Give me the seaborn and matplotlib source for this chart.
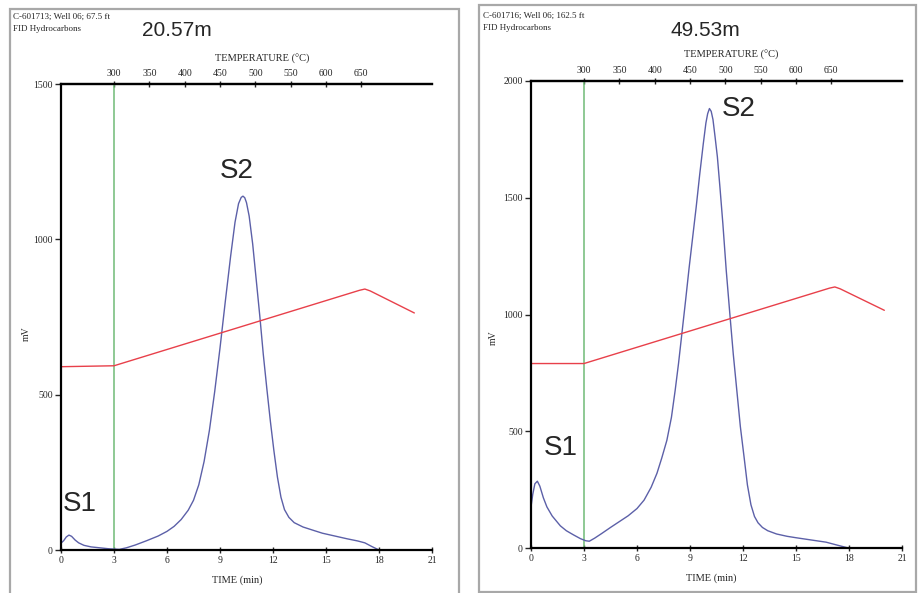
import matplotlib.pyplot as plt
import matplotlib.patches as patches
import seaborn as sns

# Pyrolysis FID traces (time in min, signal in mV)

# sample C-601713, 20.57 m
time_a = [0.0, 0.15, 0.3, 0.45, 0.6, 0.8, 1.0, 1.3, 1.7, 2.2, 2.7, 3.0, 3.3,
          3.7, 4.2, 4.85, 5.5, 6.0, 6.4, 6.8, 7.2, 7.5, 7.8, 8.1, 8.4, 8.7,
          9.0, 9.3, 9.6, 9.85, 10.05, 10.2, 10.3, 10.4, 10.5, 10.65, 10.85,
          11.05, 11.25, 11.45, 11.65, 11.85, 12.05, 12.25, 12.45, 12.65, 12.9,
          13.2, 13.7, 14.3, 14.8, 15.5, 16.2, 16.8, 17.2, 17.6, 18.0]
fid_a = [22, 30, 42, 48, 44, 32, 23, 15, 10, 7, 4, 3, 2,
         7, 16, 30, 45, 60, 76, 98, 128, 160, 210, 285, 385, 510,
         650, 800, 945, 1055, 1115, 1135, 1139, 1134, 1118, 1075, 985,
         870, 755, 630, 520, 415, 320, 235, 170, 130, 105,
         88, 74, 63, 54, 45, 36, 29, 23, 11, 0]
temp_time_a = [0, 2.0, 3.0, 16.9, 17.2, 17.5, 20.0]
temp_trace_a = [590, 592, 593, 836, 840, 834, 763]

# sample C-601716, 49.53 m
time_b = [0.0, 0.1, 0.22, 0.36, 0.5, 0.7, 0.9, 1.2, 1.66, 2.0, 2.41, 2.8, 3.1,
          3.3, 3.6, 4.0, 4.5, 5.0, 5.5, 6.0, 6.4, 6.8, 7.13, 7.4, 7.69, 7.95,
          8.16, 8.35, 8.54, 8.75, 8.95, 9.15, 9.35, 9.55, 9.75, 9.9, 10.0,
          10.1, 10.2, 10.3, 10.42, 10.55, 10.7, 10.86, 11.05, 11.27, 11.45,
          11.65, 11.85, 12.06, 12.25, 12.45, 12.65, 12.85, 13.1, 13.4, 13.9,
          14.5, 15.0, 15.8, 16.7, 17.3, 17.96, 18.5]
fid_b = [176, 230, 275, 286, 265, 215, 176, 137, 95, 74, 56, 40, 31,
         29, 42, 62, 88, 113, 138, 169, 205, 260, 320, 385, 461, 560,
         675, 790, 918, 1060, 1200, 1330, 1460, 1600, 1730, 1820, 1860,
         1882, 1870, 1835, 1760, 1675, 1540, 1389, 1190, 989, 830,
         675, 520, 390, 270, 185, 135, 108, 88, 74, 60,
         50, 44, 35, 25, 13, 0, 0]
temp_time_b = [0, 3.0, 16.9, 17.2, 17.5, 20.0]
temp_trace_b = [790, 790, 1113, 1118, 1110, 1018]

time_ticks = [0, 3, 6, 9, 12, 15, 18, 21]
temp_ticks = [300, 350, 400, 450, 500, 550, 600, 650]
yticks_a = [0, 500, 1000, 1500]
yticks_b = [0, 500, 1000, 1500, 2000]

BLUE = '#5c60a8'
RED = '#e8404a'
GREEN = '#70bb76'

sns.set_style("white")
plt.rcParams['font.family'] = ['Liberation Serif', 'DejaVu Serif']

W, H = 919, 593
fig = plt.figure(figsize=(W / 100, H / 100), dpi=100)


def px_box(x0, y0, x1, y1):
    """pixel box (top-left origin) -> figure fraction rect"""
    return [x0 / W, 1 - y1 / H, (x1 - x0) / W, (y1 - y0) / H]


def t_to_temp(t):
    return 300 + 25 * (t - 3)


def temp_to_t(temp):
    return 3 + (temp - 300) / 25


def draw_panel(ax, t, fid, tt, temp, ymax, yticks):
    sns.lineplot(x=t, y=fid, ax=ax, color=BLUE, lw=1.0, sort=False, estimator=None)
    sns.lineplot(x=tt, y=temp, ax=ax, color=RED, lw=1.0, sort=False, estimator=None)
    ax.axvline(3, color=GREEN, lw=1.1, zorder=1)

    ax.set_xlim(0, 21)
    ax.set_ylim(0, ymax)
    ax.set_xticks(time_ticks)
    ax.set_yticks(yticks)
    ax.set_facecolor('white')

    for side in ['left', 'bottom', 'top']:
        ax.spines[side].set_visible(True)
        ax.spines[side].set_color('black')
        ax.spines[side].set_linewidth(1.6)
    ax.spines['right'].set_visible(False)

    ax.tick_params(axis='x', direction='inout', length=5, width=1, labelsize=7,
                   pad=2, bottom=True, top=False)
    ax.tick_params(axis='y', direction='out', length=4, width=1, labelsize=7,
                   pad=2, left=True)
    ax.set_xlabel('')
    ax.set_ylabel('')

    # temperature scale on top
    sec = ax.secondary_xaxis('top', functions=(t_to_temp, temp_to_t))
    sec.set_xticks(temp_ticks)
    sec.tick_params(direction='inout', length=5, width=1, labelsize=7, pad=2)
    sec.spines['top'].set_linewidth(1.6)


# panel frames
fig.patches.append(patches.Rectangle((10 / W, -0.05), 449 / W, 1 - 9 / H + 0.05,
                                     transform=fig.transFigure, fill=False,
                                     edgecolor='#a8a8a8', lw=1.6))
fig.patches.append(patches.Rectangle((479 / W, 1 - 592 / H), 437 / W, 587 / H,
                                     transform=fig.transFigure, fill=False,
                                     edgecolor='#a8a8a8', lw=1.6))

ax_a = fig.add_axes(px_box(61, 84, 432, 550))
ax_b = fig.add_axes(px_box(531, 81, 902, 548))

draw_panel(ax_a, time_a, fid_a, temp_time_a, temp_trace_a, 1500, yticks_a)
draw_panel(ax_b, time_b, fid_b, temp_time_b, temp_trace_b, 2000, yticks_b)

# peak labels
big = dict(family=['Liberation Sans', 'DejaVu Sans'], fontsize=20)
ax_a.text(0.1, 125, 'S1', ha='left', va='baseline', **big)
ax_a.text(9.0, 1197, 'S2', ha='left', va='baseline', **big)
ax_b.text(0.7, 397, 'S1', ha='left', va='baseline', **big)
ax_b.text(10.8, 1849, 'S2', ha='left', va='baseline', **big)

# headers and axis titles
sans = ['Liberation Sans', 'DejaVu Sans']
fig.text(177 / W, 1 - 31 / H, '20.57m', family=sans, fontsize=15, ha='center', va='center')
fig.text(705 / W, 1 - 31 / H, '49.53m', family=sans, fontsize=15, ha='center', va='center')

fig.text(13 / W, 1 - 17 / H, 'C-601713; Well 06; 67.5 ft', fontsize=6.5, va='center')
fig.text(13 / W, 1 - 29 / H, 'FID Hydrocarbons', fontsize=6.5, va='center')
fig.text(483 / W, 1 - 16 / H, 'C-601716; Well 06; 162.5 ft', fontsize=6.5, va='center')
fig.text(483 / W, 1 - 28 / H, 'FID Hydrocarbons', fontsize=6.5, va='center')

fig.text(262 / W, 1 - 59 / H, 'TEMPERATURE (\u00b0C)', fontsize=7.5, ha='center', va='center')
fig.text(731 / W, 1 - 55 / H, 'TEMPERATURE (\u00b0C)', fontsize=7.5, ha='center', va='center')

fig.text(26 / W, 1 - 334 / H, 'mV', fontsize=7, rotation=90, ha='center', va='center')
fig.text(493 / W, 1 - 338 / H, 'mV', fontsize=7, rotation=90, ha='center', va='center')
fig.text(237 / W, 1 - 580 / H, 'TIME (min)', fontsize=7.5, ha='center', va='center')
fig.text(711 / W, 1 - 578 / H, 'TIME (min)', fontsize=7.5, ha='center', va='center')

fig.savefig('out.png', dpi=100)
plt.close(fig)
